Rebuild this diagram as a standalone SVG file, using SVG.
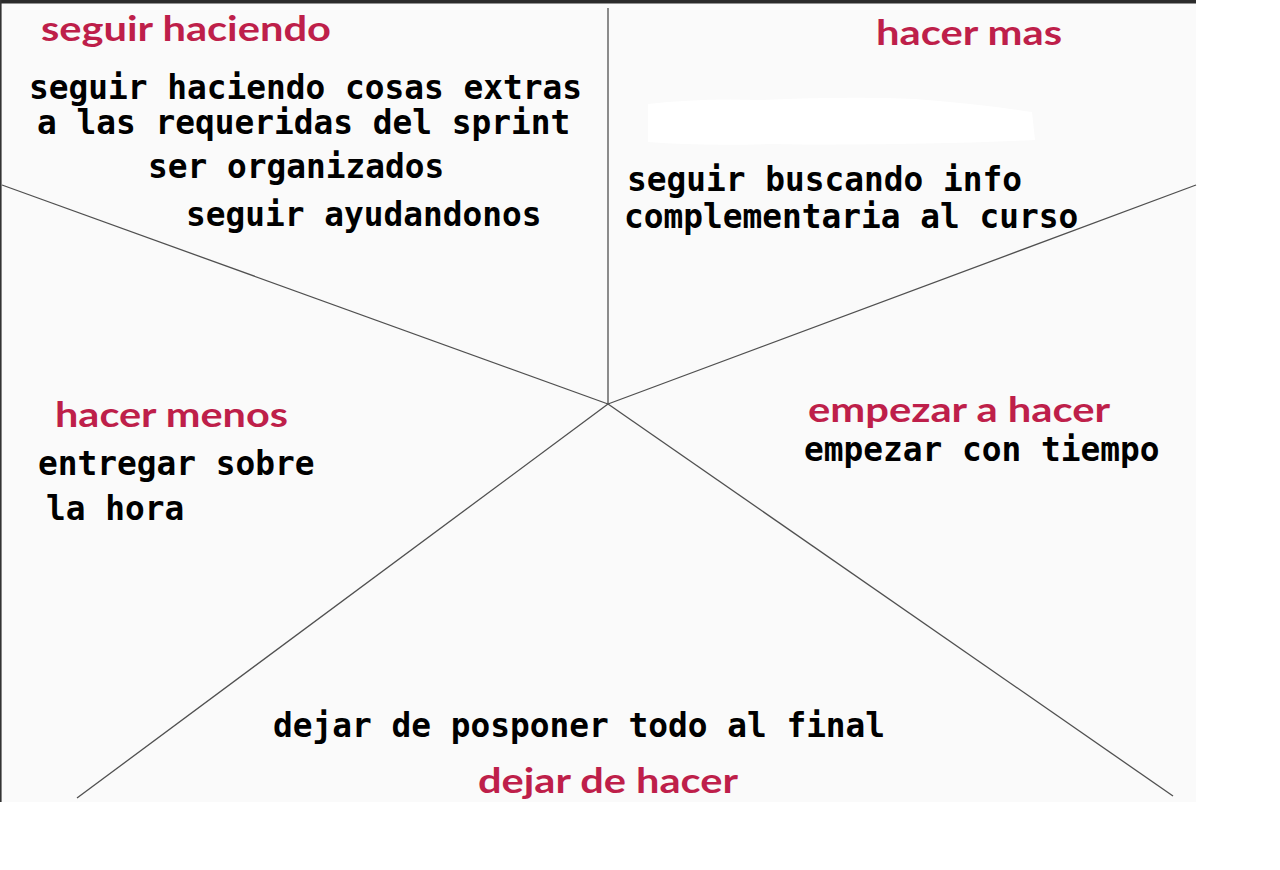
<svg xmlns="http://www.w3.org/2000/svg" width="1280" height="870" viewBox="0 0 1280 870">
<style>
.h{font-family:Lato,"Open Sans","Liberation Sans",sans-serif;font-weight:700;font-size:34px;fill:#be1f4a}
.t{font-family:"DejaVu Sans Mono","Liberation Mono",monospace;font-weight:700;font-size:32.8px;fill:#000}
.ln{stroke:#505050;stroke-width:1.3;fill:none}
</style>
<rect x="0" y="0" width="1280" height="870" fill="#ffffff"/>
<rect x="0" y="0" width="1196" height="802" fill="#fafafa"/>
<rect x="0" y="0" width="1196" height="3.5" fill="#2b2b2b"/>
<line x1="0.8" y1="0" x2="0.8" y2="802" stroke="#333" stroke-width="1.6"/>
<path d="M648 104 Q700 98 760 100 Q850 96 915 99 Q980 104 1032 112 L1035 140 Q900 146 770 144 Q700 146 648 142 Z" fill="#ffffff"/>
<g id="connectors">
<line class="ln" x1="608" y1="8" x2="608" y2="404"/>
<line class="ln" x1="2" y1="185" x2="608" y2="404"/>
<line class="ln" x1="1196" y1="185" x2="608" y2="404"/>
<line class="ln" x1="608" y1="404" x2="77" y2="798"/>
<line class="ln" x1="608" y1="404" x2="1173" y2="796"/>
</g>
<g id="seguir-haciendo">
<text class="h" x="41" y="41" textLength="290" lengthAdjust="spacingAndGlyphs">seguir haciendo</text>
<text class="t" x="29" y="99">seguir haciendo cosas extras</text>
<text class="t" x="37" y="134">a las requeridas del sprint</text>
<text class="t" x="148" y="178">ser organizados</text>
<text class="t" x="186" y="226">seguir ayudandonos</text>
</g>
<g id="hacer-mas">
<text class="h" x="876" y="45" textLength="186" lengthAdjust="spacingAndGlyphs">hacer mas</text>
<text class="t" x="627" y="191">seguir buscando info</text>
<text class="t" x="624" y="228">complementaria al curso</text>
</g>
<g id="hacer-menos">
<text class="h" x="55" y="427" textLength="233" lengthAdjust="spacingAndGlyphs">hacer menos</text>
<text class="t" x="38" y="475">entregar sobre</text>
<text class="t" x="46" y="520">la hora</text>
</g>
<g id="empezar-a-hacer">
<text class="h" x="808" y="422" textLength="302" lengthAdjust="spacingAndGlyphs">empezar a hacer</text>
<text class="t" x="804" y="461">empezar con tiempo</text>
</g>
<g id="dejar-de-hacer">
<text class="t" x="273" y="737">dejar de posponer todo al final</text>
<text class="h" x="478" y="793" textLength="260" lengthAdjust="spacingAndGlyphs">dejar de hacer</text>
</g>
</svg>
